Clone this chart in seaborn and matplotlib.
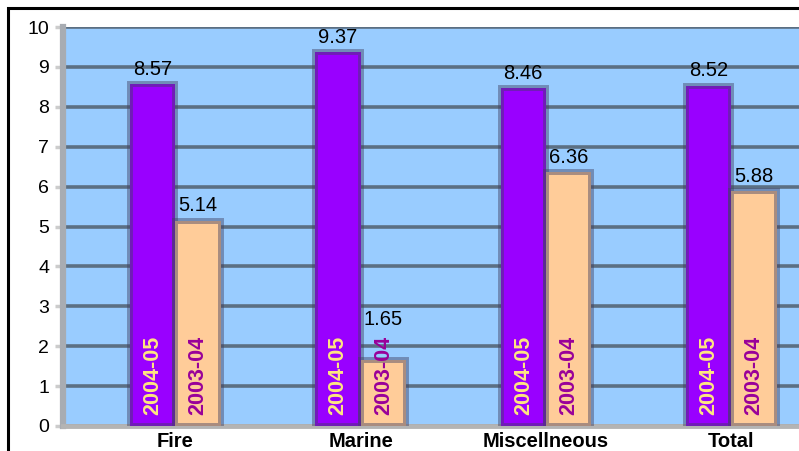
import matplotlib
matplotlib.use("Agg")
import matplotlib.pyplot as plt
import seaborn as sns
import pandas as pd
from matplotlib.patches import Rectangle

categories = ["Fire", "Marine", "Miscellneous", "Total"]
years = ["2004-05", "2003-04"]
values_2004_05 = [8.57, 9.37, 8.46, 8.52]
values_2003_04 = [5.14, 1.65, 6.36, 5.88]
y_ticks = [0, 1, 2, 3, 4, 5, 6, 7, 8, 9, 10]

df = pd.DataFrame({
    "category": categories * 2,
    "year": [years[0]] * 4 + [years[1]] * 4,
    "value": values_2004_05 + values_2003_04,
})

sns.set_theme(style="white")
plt.rcParams["font.family"] = ["Liberation Sans", "DejaVu Sans"]

fig = plt.figure(figsize=(7.99, 4.51), dpi=100)
ax = fig.add_axes([63 / 799, 25 / 451, (799 - 63) / 799, 399 / 451])
ax.set_facecolor("#99CCFF")

palette = {"2004-05": "#9900FF", "2003-04": "#FFCC99"}
sns.barplot(data=df, x="category", y="value", hue="year", order=categories,
            hue_order=years, palette=palette, width=0.49, dodge=True,
            saturation=1, ax=ax, legend=False, zorder=3,
            edgecolor=(0.25, 0.25, 0.38, 0.45), linewidth=4.3)

ax.set_ylim(0, 10)
ax.set_xlim(-0.607, 3.366)
ax.set_yticks(y_ticks)
ax.yaxis.grid(True, color="#5B6F83", linewidth=2.6, zorder=1)
ax.set_axisbelow(True)
ax.set_xlabel("")
ax.set_ylabel("")
ax.tick_params(axis="y", labelsize=14, colors="#cccccc", labelcolor="black",
               length=6, width=2.5, left=True, pad=4)
ax.tick_params(axis="x", labelsize=14.5, length=0, pad=4)
for lbl in ax.get_xticklabels():
    lbl.set_fontweight("bold")
    lbl.set_color("black")

for side in ["top", "right"]:
    ax.spines[side].set_visible(False)
ax.spines["left"].set_color("#a8acb2")
ax.spines["left"].set_linewidth(4.5)
ax.spines["bottom"].set_color("#b4b4b4")
ax.spines["bottom"].set_linewidth(3.5)

text_colors = {"2004-05": "#FFE680", "2003-04": "#990099"}
inner_top = 2.3  # height (data units) reached by the rotated year labels
for cont, yr in zip(ax.containers, years):
    for bar in cont:
        xc = bar.get_x() + bar.get_width() / 2
        h = bar.get_height()
        ax.annotate(f"{h:.2f}", (xc, max(h, inner_top)), xytext=(0, 4),
                    textcoords="offset points", ha="center", va="bottom",
                    fontsize=14.5, color="black", zorder=5)
        ax.annotate(yr, (xc, 0), xytext=(0, 8), textcoords="offset points",
                    ha="center", va="bottom", rotation=90, fontsize=15.5,
                    fontweight="bold", color=text_colors[yr], zorder=5)

# Outer black frame (left and top visible)
fig.patches.append(Rectangle((8 / 799, -0.1), 1.2, 1.1 - 8 / 451,
                             transform=fig.transFigure, fill=False,
                             edgecolor="black", linewidth=2.2, zorder=10))

fig.savefig("out.png", dpi=100)
